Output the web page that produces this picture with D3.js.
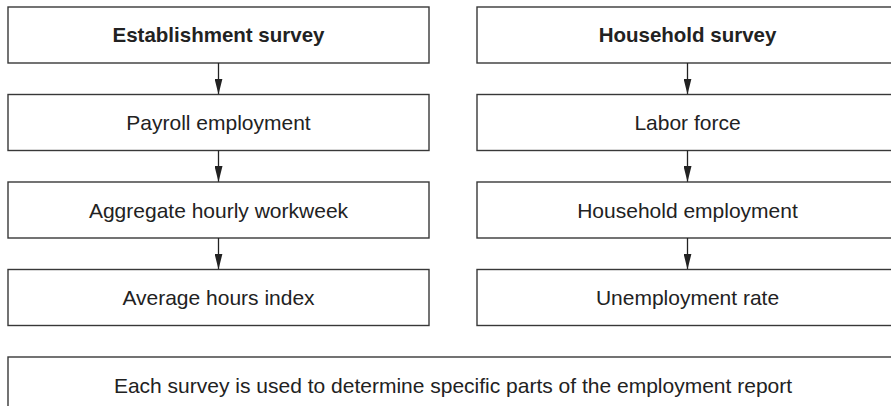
<!DOCTYPE html>
<html><head><meta charset="utf-8">
<script src="https://cdn.jsdelivr.net/npm/d3@7"></script>
<style>body{margin:0;background:#fff}svg{display:block}</style>
</head><body>
<svg id="c" width="891" height="406"></svg>
<script>
const leftNodes = ["Establishment survey","Payroll employment","Aggregate hourly workweek","Average hours index"];
const rightNodes = ["Household survey","Labor force","Household employment","Unemployment rate"];
const footerText = ["Each survey is used to determine specific parts of the employment report"];

const svg = d3.select("#c");
const boxW = 421, boxH = 56;
const col = d3.scaleLinear().domain([0,1]).range([8, 477]);
const row = d3.scaleLinear().domain([0,4]).range([7, 357]);
const stroke = "#383838", sw = 1.4;
const font = "Liberation Sans, Arial, Helvetica, sans-serif";

svg.append("defs").append("marker")
  .attr("id","arr").attr("viewBox","0 0 16 8").attr("refX",16).attr("refY",4)
  .attr("markerUnits","userSpaceOnUse").attr("markerWidth",16).attr("markerHeight",8)
  .attr("orient","auto")
  .append("path").attr("d","M0,0 L16,4 L0,8 Z").attr("fill","#222");

function drawColumn(nodes, c){
  const g = svg.append("g");
  nodes.forEach((t,i)=>{
    const x = col(c), y = row(i);
    g.append("rect").attr("x",x).attr("y",y).attr("width",boxW).attr("height",boxH)
      .attr("fill","#fff").attr("stroke",stroke).attr("stroke-width",sw);
    g.append("text").attr("x",x+boxW/2).attr("y",y+boxH/2).attr("dy","0.36em")
      .attr("text-anchor","middle")
      .attr("font-family",font)
      .attr("font-size",i===0?20.5:21).attr("font-weight", i===0?"bold":"normal")
      .attr("fill","#222").text(t);
    if(i<nodes.length-1){
      g.append("line").attr("x1",x+boxW/2).attr("x2",x+boxW/2)
        .attr("y1",y+boxH).attr("y2",row(i+1))
        .attr("stroke","#222").attr("stroke-width",1.3)
        .attr("marker-end","url(#arr)");
    }
  });
}
drawColumn(leftNodes,0);
drawColumn(rightNodes,1);

const fx = col(0), fw = col(1)+boxW-col(0);
svg.append("rect").attr("x",fx).attr("y",row(4)).attr("width",fw).attr("height",boxH)
  .attr("fill","#fff").attr("stroke",stroke).attr("stroke-width",sw);
svg.append("text").attr("x",fx+fw/2).attr("y",row(4)+boxH/2).attr("dy","0.36em")
  .attr("text-anchor","middle").attr("font-family",font)
  .attr("font-size",21).attr("fill","#222").text(footerText[0]);
</script>
</body></html>
